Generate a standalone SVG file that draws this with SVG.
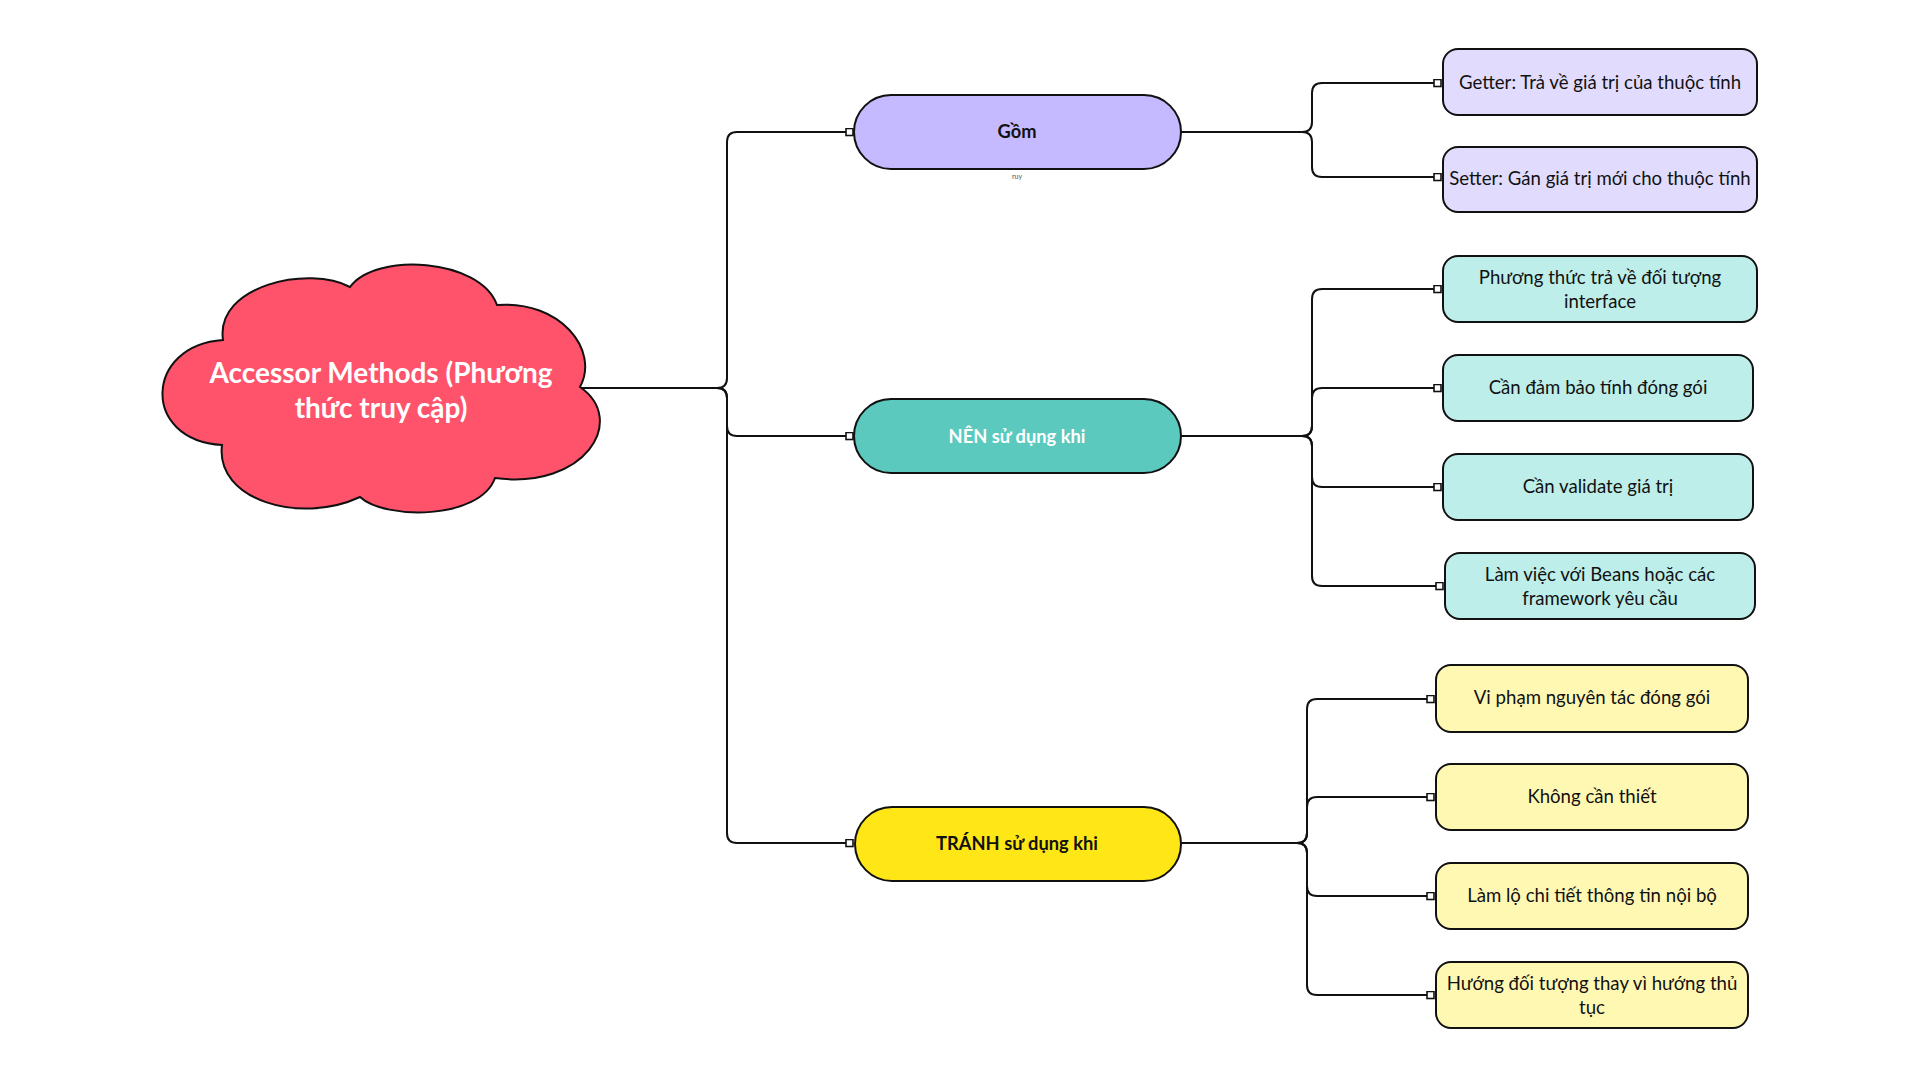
<svg xmlns="http://www.w3.org/2000/svg" width="1920" height="1080" viewBox="0 0 1920 1080">
<defs>
<style>
.conn{fill:none;stroke:#111;stroke-width:2}
.pill{stroke:#111;stroke-width:2}
.box{stroke:#111;stroke-width:2}
.t{font-family:Lato,"Noto Sans",sans-serif;font-size:18.6px;fill:#111;text-anchor:middle}
.pt{font-family:Lato,"Noto Sans",sans-serif;font-size:18.3px;font-weight:700;text-anchor:middle}
.ct{font-family:Lato,"Noto Sans",sans-serif;font-size:28px;font-weight:700;fill:#fff;text-anchor:middle}
</style>
<marker id="sq" markerUnits="userSpaceOnUse" markerWidth="10" markerHeight="10" refX="1" refY="4.5" orient="auto" viewBox="0 0 10 10">
<rect x="1" y="1" width="7" height="7" fill="#fff" stroke="#111" stroke-width="1.6"/>
</marker>
</defs>
<rect width="1920" height="1080" fill="#fff"/>
<g id="connectors">
<path class="conn" marker-end="url(#sq)" d="M 578 388 H 717 Q 727 388 727 378 V 142 Q 727 132 737 132 H 846"/>
<path class="conn" marker-end="url(#sq)" d="M 578 388 H 717 Q 727 388 727 398 V 426 Q 727 436 737 436 H 846"/>
<path class="conn" marker-end="url(#sq)" d="M 578 388 H 717 Q 727 388 727 398 V 833 Q 727 843 737 843 H 846"/>
<path class="conn" marker-end="url(#sq)" d="M 1181 132 H 1302 Q 1312 132 1312 122 V 93 Q 1312 83 1322 83 H 1434"/>
<path class="conn" marker-end="url(#sq)" d="M 1181 132 H 1302 Q 1312 132 1312 142 V 167 Q 1312 177 1322 177 H 1434"/>
<path class="conn" marker-end="url(#sq)" d="M 1181 436 H 1302 Q 1312 436 1312 426 V 299 Q 1312 289 1322 289 H 1434"/>
<path class="conn" marker-end="url(#sq)" d="M 1181 436 H 1302 Q 1312 436 1312 426 V 398 Q 1312 388 1322 388 H 1434"/>
<path class="conn" marker-end="url(#sq)" d="M 1181 436 H 1302 Q 1312 436 1312 446 V 477 Q 1312 487 1322 487 H 1434"/>
<path class="conn" marker-end="url(#sq)" d="M 1181 436 H 1302 Q 1312 436 1312 446 V 576 Q 1312 586 1322 586 H 1436"/>
<path class="conn" marker-end="url(#sq)" d="M 1181 843 H 1297 Q 1307 843 1307 833 V 709 Q 1307 699 1317 699 H 1427"/>
<path class="conn" marker-end="url(#sq)" d="M 1181 843 H 1297 Q 1307 843 1307 833 V 807 Q 1307 797 1317 797 H 1427"/>
<path class="conn" marker-end="url(#sq)" d="M 1181 843 H 1297 Q 1307 843 1307 853 V 886 Q 1307 896 1317 896 H 1427"/>
<path class="conn" marker-end="url(#sq)" d="M 1181 843 H 1297 Q 1307 843 1307 853 V 985 Q 1307 995 1317 995 H 1427"/>
</g>
<g id="root">
<path d="M 223 340 C 145 345, 140 440, 222 445 C 215 500, 300 525, 360 497 C 385 520, 480 520, 495 478 C 585 490, 628 420, 580 387 C 600 350, 560 300, 497 305 C 480 258, 375 252, 350 287 C 310 265, 215 285, 223 340 Z" fill="#FF526B" stroke="#111" stroke-width="2"/>
<text class="ct" x="381" y="383">Accessor Methods (Phương</text>
<text class="ct" x="381" y="418">thức truy cập)</text>
</g>
<g id="gom">
<rect class="pill" x="854" y="95" width="327" height="74" rx="37" fill="#C5B9FF"/>
<text class="pt" x="1017" y="138" fill="#111">Gồm</text>
<text x="1017" y="179" font-family="Lato,sans-serif" font-size="7" fill="#555" text-anchor="middle">ruy</text>
</g>
<g id="getter">
<rect class="box" x="1443" y="49" width="314" height="66" rx="15" fill="#E1DCFE"/>
<text class="t" x="1600" y="89">Getter: Trả về giá trị của thuộc tính</text>
</g>
<g id="setter">
<rect class="box" x="1443" y="147" width="314" height="65" rx="15" fill="#E1DCFE"/>
<text class="t" x="1600" y="185">Setter: Gán giá trị mới cho thuộc tính</text>
</g>
<g id="nen">
<rect class="pill" x="854" y="399" width="327" height="74" rx="37" fill="#5BC9BE"/>
<text class="pt" x="1017" y="443" fill="#fff">NÊN sử dụng khi</text>
</g>
<g id="nen1">
<rect class="box" x="1443" y="256" width="314" height="66" rx="15" fill="#BDEEE9"/>
<text class="t" x="1600" y="284">Phương thức trả về đối tượng</text>
<text class="t" x="1600" y="308">interface</text>
</g>
<g id="nen2">
<rect class="box" x="1443" y="355" width="310" height="66" rx="15" fill="#BDEEE9"/>
<text class="t" x="1598" y="394">Cần đảm bảo tính đóng gói</text>
</g>
<g id="nen3">
<rect class="box" x="1443" y="454" width="310" height="66" rx="15" fill="#BDEEE9"/>
<text class="t" x="1598" y="493">Cần validate giá trị</text>
</g>
<g id="nen4">
<rect class="box" x="1445" y="553" width="310" height="66" rx="15" fill="#BDEEE9"/>
<text class="t" x="1600" y="581">Làm việc với Beans hoặc các</text>
<text class="t" x="1600" y="605">framework yêu cầu</text>
</g>
<g id="tranh">
<rect class="pill" x="855" y="807" width="326" height="74" rx="37" fill="#FFE617"/>
<text class="pt" x="1017" y="850" fill="#111">TRÁNH sử dụng khi</text>
</g>
<g id="tranh1">
<rect class="box" x="1436" y="665" width="312" height="67" rx="15" fill="#FFF8B3"/>
<text class="t" x="1592" y="704">Vi phạm nguyên tác đóng gói</text>
</g>
<g id="tranh2">
<rect class="box" x="1436" y="764" width="312" height="66" rx="15" fill="#FFF8B3"/>
<text class="t" x="1592" y="803">Không cần thiết</text>
</g>
<g id="tranh3">
<rect class="box" x="1436" y="863" width="312" height="66" rx="15" fill="#FFF8B3"/>
<text class="t" x="1592" y="902">Làm lộ chi tiết thông tin nội bộ</text>
</g>
<g id="tranh4">
<rect class="box" x="1436" y="962" width="312" height="66" rx="15" fill="#FFF8B3"/>
<text class="t" x="1592" y="990">Hướng đối tượng thay vì hướng thủ</text>
<text class="t" x="1592" y="1014">tục</text>
</g>
</svg>
